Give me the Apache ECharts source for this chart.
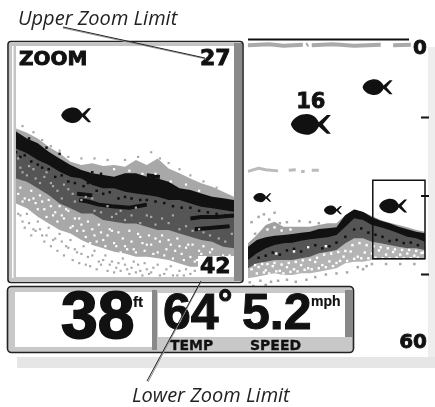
<!DOCTYPE html>
<html><head><meta charset="utf-8">
<style>html,body{margin:0;padding:0;background:#fff}#c{width:435px;height:407px}</style>
<script src="https://cdn.jsdelivr.net/npm/echarts@6/dist/echarts.min.js"></script></head>
<body><div id="c"></div>
<script>
// ---- Zoom window sonar (x = percent of window width, values = depth in ft)
const zoomX = [0,5,10,15,20,25,30,35,40,45,50,55,60,65,70,75,80,85,90,95,100];
const zoomSurface = [32.35,32.63,33.00,33.54,33.97,34.51,34.73,34.62,34.79,34.73,34.84,34.40,34.73,34.30,34.95,35.27,35.60,35.92,36.14,36.46,36.79];
const zoomBlackTop = [32.56,33.00,33.32,33.86,34.30,34.73,35.05,35.27,35.38,35.49,35.27,35.27,35.49,35.60,35.81,36.24,36.35,36.57,36.79,36.89,37.00];
const zoomBlackBottom = [33.65,33.97,34.40,34.73,35.16,35.49,35.60,36.03,36.24,36.24,36.46,36.57,36.68,36.79,37.00,37.00,37.22,37.44,37.54,37.65,37.76];
const zoomDarkBottom = [35.60,35.81,36.24,36.68,37.22,37.54,37.87,37.87,38.30,38.41,38.52,38.52,38.73,38.95,38.95,39.17,39.38,39.60,39.71,40.03,40.14];
const zoomLightBottom = [37.22,37.54,38.08,38.52,38.95,39.17,39.60,39.93,40.14,40.36,40.47,40.68,40.68,40.79,40.90,41.12,41.33,41.33,41.55,41.66,41.76];
const zoomBlobs = [[[29,37.0],[33,37.1],[38,37.3],[44,37.4],[52,37.5],[60,37.3]],[[80,38.2],[85,38.1],[92,38.1],[100,38.0]],[[82,38.9],[90,38.8],[98,38.7]],[[28,36.6],[35,36.7]],[[60,35.4],[66,35.5]]];
const zoomWhiteSpecks = [[2,36.2],[4,36.9],[7,36.4],[9,37.2],[11,36.7],[13,37.6],[15,37.0],[17,38.0],[20,37.4],[22,38.2],[24,37.7],[26,38.7],[29,38.2],[31,39.0],[33,38.4],[36,39.3],[38,38.6],[40,39.6],[43,38.9],[45,39.8],[47,39.1],[50,40.0],[52,39.0],[54,40.2],[57,39.4],[59,40.3],[61,39.3],[63,40.5],[66,39.7],[68,40.6],[70,39.6],[72,40.8],[75,40.0],[77,40.9],[79,39.9],[82,41.0],[84,40.3],[87,41.2],[89,40.4],[92,41.3],[95,40.6],[97,41.4],[34,39.8],[48,40.4],[60,39.9],[73,40.3],[45,35.0],[58,35.3],[64,35.3],[71,35.8],[78,36.0],[52,35.1],[84,36.4],
 [1,36.6],[3,37.1],[6,37.0],[8,36.9],[10,37.6],[12,37.1],[14,38.1],[16,37.4],[18,37.8],[19,38.4],[21,38.0],[23,37.6],[25,38.8],[27,38.2],[28,39.0],[30,38.6],[32,39.4],[35,38.9],[37,39.7],[39,39.1],[41,40.0],[42,39.3],[44,39.0],[46,40.0],[49,39.5],[51,40.2],[53,39.7],[55,40.4],[56,39.2],[58,39.8],[62,39.9],[64,39.5],[65,40.4],[67,39.3],[69,40.2],[71,39.9],[74,39.5],[76,40.5],[78,40.1],[80,40.7],[81,39.9],[83,40.9],[85,40.5],[86,40.0],[88,40.8],[90,40.2],[91,41.0],[93,40.7],[94,41.2],[96,41.0],[98,40.6],[99,41.3]];
const zoomGraySpecks = [[1,37.9],[3,38.4],[5,37.9],[8,38.9],[10,38.4],[12,39.3],[15,38.8],[17,39.6],[20,39.2],[23,40.0],[25,39.6],[28,40.4],[31,40.0],[33,40.7],[36,40.3],[38,41.0],[41,40.6],[44,41.0],[46,41.4],[49,40.8],[51,41.5],[54,41.0],[57,41.6],[59,41.1],[62,41.7],[65,41.2],[68,41.8],[71,41.3],[74,41.9],[78,41.5],[80,41.8],[3,32.2],[8,32.6],[12,33.1],[16,33.5],[20,33.8],[24,34.2],[30,34.3],[36,34.3],[42,34.4],[50,34.4],[56,34.2],[62,33.9],[66,34.3],[70,34.6],[75,35.0],[80,35.4],[86,35.8],[92,36.2],[1,34.3],[3,35.2],[6,34.8],[9,35.6],[14,35.2],[17,36.1],[22,36.0],[26,36.6],[30,37.0],[35,36.9],[42,37.4],[48,37.7],[55,37.5],[62,38.1],[70,38.5],[78,38.7],[86,39.1],[93,39.5],
 [2,38.0],[4,38.8],[6,38.5],[7,39.3],[9,39.0],[11,38.9],[13,39.7],[14,39.3],[16,40.0],[18,39.5],[19,40.3],[21,39.7],[22,40.6],[24,40.1],[26,40.9],[27,40.2],[29,41.1],[30,40.5],[32,41.2],[34,41.3],[35,40.6],[37,41.5],[39,41.2],[40,40.9],[42,41.6],[43,41.2],[45,41.7],[47,41.1],[48,41.6],[50,41.2],[52,41.8],[53,41.4],[55,41.7],[56,41.2],[58,41.9],[60,41.5],[61,41.8],[63,41.4],[66,41.9],[69,41.5],[72,41.9],[75,41.6],[77,41.9],[82,41.6],[84,41.9],[90,41.9],
 [2,34.9],[5,35.4],[8,35.0],[11,35.9],[13,35.5],[16,35.9],[19,36.4],[21,36.9],[24,36.3],[27,37.1],[32,36.8],[36,37.7],[39,37.8],[44,38.1],[46,37.9],[50,38.3],[53,38.0],[57,38.5],[60,38.0],[64,38.6],[67,38.2],[72,38.0],[75,38.9],[81,39.0],[84,38.9],[89,39.3],[96,39.7],[99,39.2]];
const zoomBlackSpecks = [[0,33.9],[2,34.2],[4,34.1],[7,34.5],[10,34.7],[12,34.9],[15,35.0],[18,35.5],[21,35.4],[24,35.8],[27,35.9],[31,36.1],[33,35.9],[37,36.4],[40,36.6],[43,36.5],[47,36.9],[50,36.8],[53,36.9],[57,37.0],[60,37.0],[64,37.1],[68,37.2],[72,37.4],[76,37.5],[80,37.5],[84,37.7],[88,37.8],[92,37.9],[96,38.0],[65,36.0],[69,36.5],[73,36.7],[77,36.9],[35,35.2],[39,35.3],[31,35.2],[20,34.0],[14,33.6],[6,33.0]];
const zoomFish = [[27.6,31.5,30]];

// ---- Main sonar history
const mainX = [0,5,10,15,20,25,30,35,40,45,50,55,60,65,70,75,80,85,90,95,100];
const mainSurface = [39.05,37.46,35.54,34.91,35.86,35.86,35.86,35.86,35.54,35.23,35.23,33.63,32.55,33.00,33.83,34.59,35.10,35.54,35.99,36.50,36.82];
const mainBlackTop = [39.69,38.41,37.90,37.58,37.46,37.26,37.01,36.82,36.31,36.18,35.99,33.63,32.55,33.00,34.08,34.72,35.23,35.86,36.37,36.82,37.14];
const mainBlackBottom = [42.23,40.96,40.00,39.37,39.05,38.92,38.54,38.28,38.09,37.90,37.46,35.86,34.27,34.59,35.54,35.99,36.50,37.14,37.77,38.09,38.73];
const mainDarkBottom = [43.82,42.87,42.55,42.23,42.23,42.23,41.91,41.60,40.96,40.64,40.32,39.05,38.09,38.09,38.73,39.05,39.37,39.69,40.00,40.00,40.32];
const mainLightBottom = [45.74,45.42,45.10,44.78,45.10,45.10,44.78,44.78,44.46,44.14,43.82,42.87,42.55,42.55,42.23,42.23,42.23,42.23,42.23,42.23,42.23];
const mainSpecks = [[2,35.0],[4,37.2],[6,34.0],[9,33.5],[12,34.5],[15,33.2],[18,35.2],[22,35.0],[29,34.8],[35,35.0],[40,35.2],[1,46.5],[4,47.5],[7,46.2],[10,47.0],[13,46.4],[17,46.2],[22,46.0],[27,46.4],[33,46.0],[38,45.5],[44,45.0],[50,44.8],[56,44.6],[65,44.0],[70,43.0],[78,43.0],[86,43.0],[94,43.0],[3,47.2],[6,47.6],[62,43.6],[67,43.4]];
const mainWhiteSpecks = [[6,43.6],[10,44.2],[14,43.4],[18,44.3],[22,43.6],[26,44.0],[30,43.2],[34,43.8],[38,42.6],[42,43.2],[46,42.5],[50,42.8],[54,41.6],[58,40.6],[62,41.6],[66,40.8],[70,41.0],[74,40.4],[78,41.2],[82,40.7],[86,41.2],[90,41.0],[94,41.4],[98,40.9],[16,41.0],[26,40.6],[34,39.8],[44,39.6],
 [2,44.0],[4,43.2],[5,44.8],[8,43.0],[9,44.6],[11,43.0],[12,44.8],[15,42.8],[16,44.4],[19,43.1],[20,44.8],[23,42.8],[24,44.5],[27,42.6],[28,44.4],[31,42.3],[32,44.1],[35,42.2],[36,44.0],[39,41.8],[40,43.8],[43,41.2],[44,43.6],[47,41.0],[48,43.4],[51,40.7],[52,42.4],[55,40.5],[56,42.4],[59,39.4],[60,42.0],[63,39.0],[64,41.9],[67,39.4],[68,41.9],[71,39.6],[72,41.8],[75,39.8],[76,41.9],[79,40.0],[80,41.9],[83,40.2],[84,41.8],[87,40.3],[88,41.9],[91,40.3],[92,41.9],[95,40.5],[96,41.8],[99,40.8],
 [3,36.8],[7,36.2],[11,36.4],[15,36.0],[19,36.6],[24,36.4]];
const mainBlackSpecks = [[55,37.8],[60,36.4],[64,36.2],[68,37.0],[72,37.4],[76,37.8],[80,38.6],[84,38.4],[88,39.0],[92,38.9],[96,39.4],[6,41.8],[10,41.4],[14,40.8],[18,41.2],[22,40.4],[26,40.1],[30,40.6],[34,39.8],[38,39.4],[42,40.0],[46,39.6],[50,38.9]];
const mainSurfaceClutter = [[0,1.2],[12,1.0],[20,1.3],[31,1.1],[null,null],[33,1.2],[34,1.0],[null,null],[36,1.2],[48,1.0],[60,1.3],[75,1.1],[null,null],[82,1.2],[92,1.1]];
const mainMidClutter = [[0,25.3],[6,24.7],[10,25.0],[17,25.2],[null,null],[23,25.1],[27,25.0],[null,null],[30,25.3],[32,25.3],[null,null],[36,25.1],[40,25.1]];
const mainFish = [[35.5,16.3,40,'16'],[73.2,9.2,30,''],[8.1,30.3,18,''],[48,32.7,18,''],[82,31.9,28,'']];
const topLine = [[0,0.1],[91,0.1]];
const depthMarks = [[100,15],[100,30],[100,45]];
const depthTicks = ['0','','','','60'];
const zoomRange = [27,42];

const ink = '#111', dark = '#555', light = '#a8a8a8';
const fishPath = 'path://M0 10C2 3 10 0 16 0C22 0 26 4 28 8L36 1H40L32 10L40 19H36L28 12C26 16 22 20 16 20C10 20 2 17 0 10Z';

function band(grid, xs, ys, color){
  return {type:'line',xAxisIndex:grid,yAxisIndex:grid,data:xs.map((x,i)=>[x,ys[i]]),symbol:'none',silent:true,
    lineStyle:{width:0},areaStyle:{color,opacity:1,origin:'start'},animation:false};
}
function specks(grid,data,color,size){
  return {type:'scatter',xAxisIndex:grid,yAxisIndex:grid,data,symbol:'rect',symbolSize:size,itemStyle:{color,opacity:1},animation:false,silent:true};
}
function fishes(grid,data){
  return {type:'scatter',xAxisIndex:grid,yAxisIndex:grid,data,symbol:fishPath,symbolKeepAspect:false,
    symbolSize:d=>[d[2],d[2]*0.52],itemStyle:{color:ink,opacity:1},animation:false,silent:true,
    label:{show:true,position:'top',distance:1,formatter:p=>p.data[3]||'',color:ink,fontFamily:'DejaVu Sans',fontWeight:'bold',fontSize:21,textBorderColor:ink,textBorderWidth:0.8}};
}
function stroke(grid,data,color,width){
  return {type:'line',xAxisIndex:grid,yAxisIndex:grid,data,symbol:'none',connectNulls:false,lineStyle:{color,width,cap:'butt'},animation:false,silent:true};
}
function lcd(text,x,y,size,opts){
  return {type:'text',z:30,x,y,style:Object.assign({text,fontFamily:'DejaVu Sans',fontWeight:'bold',fontSize:size,fill:ink,stroke:ink,lineWidth:0.9,textVerticalAlign:'top'},opts||{})};
}
function box(x,y,w,h,fill,z,extra){
  return {type:'rect',z:z||20,shape:{x,y,width:w,height:h,r:(extra&&extra.r)||0},style:{fill,stroke:(extra&&extra.stroke)||null,lineWidth:(extra&&extra.lw)||0}};
}
function leader(x1,y1,x2,y2){
  return [{type:'line',z:40,shape:{x1,y1,x2,y2},style:{stroke:'#222',lineWidth:1}},
          {type:'line',z:39,shape:{x1:x1,y1:y1+1,x2:x2+1,y2:y2+1},style:{stroke:'#999',lineWidth:1}}];
}

const seriesList = [
  band(0,zoomX,zoomLightBottom,light),band(0,zoomX,zoomDarkBottom,dark),band(0,zoomX,zoomBlackBottom,ink),
  band(0,zoomX,zoomBlackTop,light),band(0,zoomX,zoomSurface,'#fff'),
  ...zoomBlobs.map(b=>stroke(0,b,ink,4)),
  specks(0,zoomBlackSpecks,ink,2.5),specks(0,zoomWhiteSpecks,'#fff',2.2),specks(0,zoomGraySpecks,light,2.2),fishes(0,zoomFish),
  band(1,mainX,mainLightBottom,'#b4b4b4'),band(1,mainX,mainDarkBottom,dark),band(1,mainX,mainBlackBottom,ink),
  band(1,mainX,mainBlackTop,'#a0a0a0'),band(1,mainX,mainSurface,'#fff'),
  specks(1,mainBlackSpecks,ink,2.5),specks(1,mainSpecks,light,2.5),specks(1,mainWhiteSpecks,'#fff',2.4),
  stroke(1,mainSurfaceClutter,'#aaa',4),stroke(1,mainMidClutter,'#bbb',3),stroke(1,topLine,ink,2),
  Object.assign(specks(1,depthMarks,ink,[8,2])),
  Object.assign(fishes(1,mainFish),{markArea:{silent:true,z:18,itemStyle:{color:'rgba(0,0,0,0)',borderColor:ink,borderWidth:1.5,borderRadius:2},
    data:[[{xAxis:70.5,yAxis:zoomRange[0]},{xAxis:100,yAxis:zoomRange[1]}]]}})
];
seriesList.forEach((s,i)=>{s.z=2+i*0.1;});

const chart = echarts.init(document.getElementById('c'),null,{renderer:'canvas'});
chart.setOption({
  animation:false,
  backgroundColor:'#fff',
  grid:[{left:16,top:46,width:218,height:231,containLabel:false},{left:248,top:39,width:177,height:314}],
  xAxis:[{gridIndex:0,type:'value',min:0,max:100,show:false},{gridIndex:1,type:'value',min:0,max:100,show:false}],
  yAxis:[
    {gridIndex:0,type:'value',inverse:true,min:zoomRange[0],max:zoomRange[1],show:false},
    {gridIndex:1,type:'value',inverse:true,min:0,max:60,interval:15,position:'right',splitLine:{show:false},z:15,
      axisLine:{show:false},axisTick:{show:false},
      axisLabel:{inside:true,margin:-2,color:ink,fontFamily:'DejaVu Sans',fontWeight:'bold',fontSize:20,textBorderColor:ink,textBorderWidth:0.8,
        verticalAlignMinLabel:'top',verticalAlignMaxLabel:'bottom',
        formatter:(v)=>depthTicks[v/15]}}
  ],
  series:seriesList,
  graphic:{elements:[
    box(428,47,7,310,'#eeeeee',1),box(17,357,418,11,'#e6e6e6',1),
    // zoom window frame
    {type:'rect',z:20,shape:{x:8,y:41.5,width:235,height:241,r:3},style:{fill:null,stroke:'#222',lineWidth:1.6}},
    box(9,43,226,3,'#c4c4c4',21),box(9,43,7,238,'#c4c4c4',21),box(9,277,226,4,'#c4c4c4',21),box(234,43,8,238,'#8a8a8a',21),box(12,46,1.5,232,'#fff',22),
    box(198,256,36,21,'#fff',25),
    lcd('ZOOM',19,50,20),lcd('27',200,48,22),lcd('42',200,256,22),
    // bottom panel
    box(7.5,286.5,346,66,'#c8c8c8',26,{r:4,stroke:'#222',lw:1.6}),
    box(15,292,137,55,'#fff',27),box(152,290,5,60,'#888',27),
    box(158,293,187,44,'#fff',27),box(345,290,8,47,'#888',27),
    lcd('38',61,287,66,{fontFamily:'Liberation Sans',lineWidth:1.8}),
    lcd('ft',133,295,15,{fontFamily:'Liberation Sans',lineWidth:0.2}),
    lcd('64',163,290,50,{fontFamily:'Liberation Sans',lineWidth:1}),
    lcd('°',218,287,36,{fontFamily:'Liberation Sans',lineWidth:1}),
    lcd('5.2',242,290,50,{fontFamily:'Liberation Sans',lineWidth:1}),
    lcd('mph',311,295,14,{fontFamily:'Liberation Sans',lineWidth:0.2}),
    lcd('TEMP',170,339,14,{lineWidth:0.3}),lcd('SPEED',250,339,14,{lineWidth:0.3}),
    // annotations
    {type:'text',z:40,x:18,y:9,style:{text:'Upper Zoom Limit',fontFamily:'Open Sans',fontStyle:'italic',fontSize:20,fill:'#222'}},
    {type:'text',z:40,x:132,y:386,style:{text:'Lower Zoom Limit',fontFamily:'Open Sans',fontStyle:'italic',fontSize:20,fill:'#222'}},
    ...leader(63,27,205,58),...leader(201,281,147,381)
  ]}
});
</script></body></html>
